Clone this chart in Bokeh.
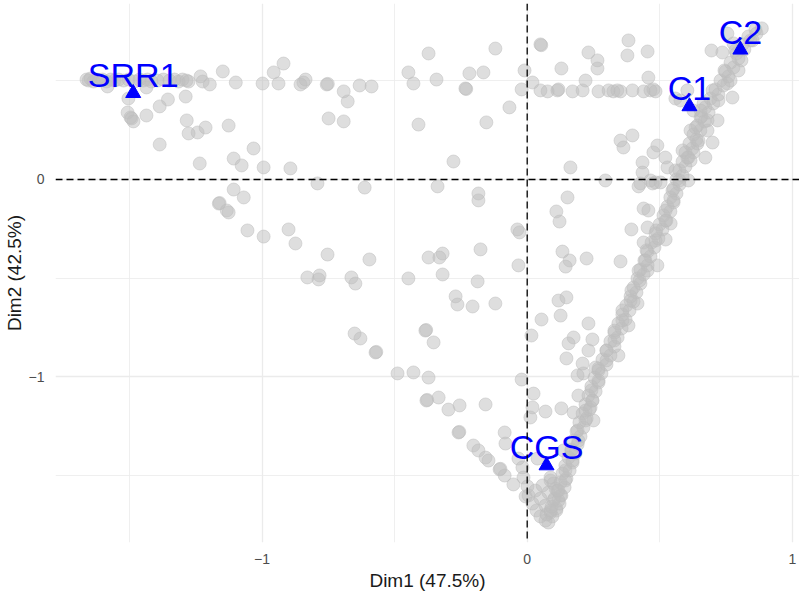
from bokeh.plotting import figure
from bokeh.models import Span, FixedTicker, Range1d
from bokeh.core.properties import value
from bokeh.embed import file_html
from bokeh.resources import INLINE

# ---------------- data ----------------
# column points (blue triangles)
col_names = ["SRR1", "C1", "C2", "CGS"]
col_x = [-1.486, 0.612, 0.804, 0.073]
col_y = [0.437, 0.370, 0.657, -1.448]

# row points: horizontal band top-left
band_left_x = [-1.662, -1.654, -1.647, -1.636, -1.624, -1.613, -1.602, -1.586, -1.571, -1.556,
               -1.541, -1.522, -1.503, -1.481, -1.462, -1.447, -1.432, -1.417, -1.394, -1.372,
               -1.349, -1.330, -1.315, -1.300, -1.285, -1.277]
band_left_y = [0.506, 0.501, 0.511, 0.496, 0.506, 0.501, 0.506, 0.496, 0.506, 0.501,
               0.506, 0.501, 0.506, 0.496, 0.506, 0.501, 0.506, 0.496, 0.501, 0.506,
               0.501, 0.506, 0.496, 0.506, 0.501, 0.496]

# row points: upper scatter (y > 0)
upper_x = [-1.232, -1.224, -1.197, -1.148, -1.099, -0.998, -0.956, -0.919, -0.938, -0.855,
           -0.836, -0.844, -0.756, -0.752, -0.692, -0.677, -0.632, -0.587, -0.749, -0.692,
           -0.448, -0.372, -0.429, -0.342, -0.218, -0.165, -0.120, -0.233, -0.230, -0.067,
           -0.154, -0.410, -0.278, -0.010, 0.020, -0.021, 0.050, 0.053,
           -1.583, -1.436, -1.504, -1.355, -1.386, -1.288, -1.507, -1.496, -1.492, -1.485,
           -1.436, -1.284, -1.277, -1.243, -1.213, -1.126, -1.386, -1.032, -1.107, -1.077,
           -1.235, -0.994, -0.893]
upper_y = [0.522, 0.496, 0.481, 0.547, 0.491, 0.486, 0.542, 0.587, 0.486, 0.481,
           0.506, 0.491, 0.481, 0.484, 0.446, 0.395, 0.476, 0.471, 0.309, 0.294,
           0.542, 0.638, 0.486, 0.506, 0.537, 0.542, 0.663, 0.461, 0.458, 0.365,
           0.289, 0.278, 0.091, 0.552, 0.491, 0.456, 0.684, 0.680,
           0.471, 0.466, 0.410, 0.405, 0.370, 0.420, 0.339, 0.314, 0.309, 0.294,
           0.324, 0.299, 0.233, 0.238, 0.263, 0.273, 0.177, 0.157, 0.106, 0.071,
           0.081, 0.061, 0.056]

# row points: lower-left branch and middle scatter
middle_x = [-1.107, -1.069, -1.163, -1.160, -1.133, -1.126, -1.055, -0.994, -0.900, -0.874,
            -0.829, -0.791, -0.613, -0.338, -0.184, -0.184, -0.037, -0.029, -0.753, -0.595,
            -0.783, -0.787, -0.663, -0.648, -0.448, -0.372, -0.319, -0.331, -0.176, -0.033,
            -0.319, -0.187, -0.270, -0.263, -0.206, -0.120, 0.054, 0.016, -0.651, -0.629,
            -0.384, -0.381, -0.353, -0.572, -0.569, -0.489, -0.429, -0.372, -0.021]
middle_y = [-0.051, -0.091, -0.122, -0.119, -0.157, -0.167, -0.258, -0.289, -0.253, -0.324,
            -0.496, -0.020, -0.041, -0.035, -0.071, -0.106, -0.253, -0.268, -0.380, -0.405,
            -0.486, -0.506, -0.496, -0.527, -0.501, -0.395, -0.375, -0.395, -0.354, -0.435,
            -0.481, -0.516, -0.592, -0.633, -0.643, -0.628, -0.709, -0.790, -0.780, -0.805,
            -0.765, -0.762, -0.825, -0.876, -0.873, -0.982, -0.977, -1.003, -1.013]

# row points: lower scatter towards the bottom tip
lower_x = [-0.380, -0.377, -0.334, -0.297, -0.255, -0.157, -0.259, -0.256, -0.203, -0.184,
           -0.157, -0.146, -0.104, -0.101, -0.085, -0.052, -0.006, 0.024, 0.020, 0.069,
           0.129, 0.012, -0.085, -0.082, -0.033, 0.039, -0.018, -0.014, 0.001, 0.137,
           0.088, 0.099,
           0.005, 0.020, 0.035, 0.050, 0.069, 0.031, 0.050, 0.069, 0.088, 0.058,
           0.080, 0.099, 0.110, 0.088, 0.107, 0.126]
lower_y = [-1.119, -1.116, -1.104, -1.165, -1.144, -1.139, -1.281, -1.278, -1.347, -1.372,
           -1.408, -1.423, -1.468, -1.465, -1.499, -1.544, -1.605, -1.084, -1.154, -1.175,
           -1.159, -1.205, -1.281, -1.337, -1.413, -1.413, -1.458, -1.509, -1.554, -1.372,
           -1.509, -1.539,
           -1.600, -1.641, -1.676, -1.706, -1.727, -1.575, -1.615, -1.651, -1.686, -1.549,
           -1.585, -1.625, -1.666, -1.524, -1.565, -1.600]

# row points: horizontal band top-right
band_right_x = [0.050, 0.077, 0.114, 0.118, 0.171, 0.209, 0.269, 0.307, 0.325, 0.340,
                0.352, 0.397, 0.439, 0.465, 0.476, 0.484]
band_right_y = [0.451, 0.446, 0.451, 0.456, 0.446, 0.451, 0.446, 0.451, 0.446, 0.451,
                0.446, 0.451, 0.446, 0.451, 0.456, 0.446]

# row points: scatter around the right branch
near_x = [0.220, 0.129, 0.231, 0.265, 0.265, 0.382, 0.378, 0.454, 0.457, 0.559,
          0.578, 0.604, 0.695, 0.736, 0.755, 0.778, 0.797, 0.755, 0.774, 0.665,
          0.627, 0.654, 0.718, 0.635, 0.680, 0.699, 0.642, 0.627, 0.672, 0.604,
          0.352, 0.397, 0.363, 0.491, 0.476, 0.521, 0.529, 0.435, 0.435, 0.163,
          0.295, 0.427, 0.484, 0.465, 0.152, 0.608,
          0.110, 0.122, 0.133, 0.160, 0.145, 0.224, 0.352, 0.393, 0.439, 0.457,
          0.454, 0.420, 0.473, 0.503, 0.522, 0.541, 0.491, 0.439, 0.454, 0.416,
          0.382, 0.344, 0.118, 0.148, 0.126, 0.231, 0.175, 0.156, 0.246, 0.231,
          0.148, 0.209, 0.258, 0.190, 0.212,
          0.193, 0.239, 0.250, 0.175]
near_y = [0.501, 0.562, 0.643, 0.603, 0.562, 0.704, 0.628, 0.648, 0.516, 0.410,
          0.400, 0.451, 0.653, 0.643, 0.739, 0.689, 0.552, 0.486, 0.415, 0.385,
          0.349, 0.314, 0.299, 0.263, 0.248, 0.187, 0.182, 0.137, 0.111, 0.111,
          0.197, 0.223, 0.162, 0.172, 0.137, 0.111, 0.061, 0.086, 0.035, 0.061,
          -0.005, -0.020, -0.015, -0.005, -0.091, -0.005,
          -0.162, -0.213, -0.365, -0.410, -0.441, -0.400, -0.415, -0.253, -0.147, -0.157,
          -0.243, -0.035, -0.020, -0.015, -0.304, -0.223, -0.435, -0.319, -0.461, -0.628,
          -0.739, -0.891, -0.613, -0.597, -0.689, -0.729, -0.800, -0.830, -0.810, -0.866,
          -0.906, -0.932, -0.952, -0.992, -0.982,
          -1.094, -1.154, -1.220, -1.180]

# row points: dense right branch of the "V"
arm_x = [0.080, 0.095, 0.073, 0.110, 0.092, 0.122, 0.103, 0.129, 0.114, 0.141,
         0.126, 0.148, 0.133, 0.160, 0.144, 0.171, 0.156, 0.182, 0.167, 0.190,
         0.175, 0.201, 0.186, 0.212, 0.197, 0.224, 0.209, 0.235, 0.220, 0.246,
         0.231, 0.258, 0.242, 0.269, 0.254, 0.280, 0.269, 0.299, 0.284, 0.314,
         0.299, 0.329, 0.314, 0.341, 0.329, 0.356, 0.344, 0.371, 0.359, 0.386,
         0.374, 0.401, 0.390, 0.412, 0.401, 0.427, 0.416, 0.439, 0.427, 0.454,
         0.442, 0.465, 0.454, 0.480, 0.469, 0.495, 0.484, 0.510, 0.499, 0.525,
         0.514, 0.540, 0.529, 0.552, 0.540, 0.563, 0.552, 0.574, 0.563, 0.586,
         0.574, 0.597, 0.586, 0.608, 0.597, 0.623, 0.612, 0.638, 0.627, 0.653,
         0.642, 0.669, 0.657, 0.684, 0.672, 0.702, 0.691, 0.721, 0.710, 0.740,
         0.729, 0.759, 0.748, 0.778, 0.767, 0.797, 0.789, 0.819, 0.812, 0.842,
         0.834, 0.865, 0.861, 0.885]
arm_y = [-1.737, -1.706, -1.696, -1.676, -1.656, -1.641, -1.615, -1.600, -1.575, -1.559,
         -1.534, -1.514, -1.489, -1.473, -1.448, -1.433, -1.408, -1.387, -1.367, -1.342,
         -1.322, -1.301, -1.276, -1.256, -1.230, -1.210, -1.185, -1.165, -1.139, -1.119,
         -1.094, -1.073, -1.048, -1.028, -1.003, -0.982, -0.957, -0.937, -0.911, -0.891,
         -0.866, -0.846, -0.820, -0.800, -0.775, -0.754, -0.729, -0.709, -0.684, -0.663,
         -0.638, -0.618, -0.592, -0.572, -0.547, -0.527, -0.501, -0.481, -0.456, -0.435,
         -0.410, -0.390, -0.365, -0.344, -0.319, -0.299, -0.273, -0.253, -0.228, -0.208,
         -0.182, -0.162, -0.137, -0.116, -0.091, -0.071, -0.046, -0.025, 0.000, 0.020,
         0.046, 0.066, 0.091, 0.111, 0.137, 0.157, 0.182, 0.203, 0.228, 0.248,
         0.273, 0.294, 0.319, 0.339, 0.365, 0.385, 0.410, 0.430, 0.456, 0.476,
         0.501, 0.522, 0.547, 0.567, 0.592, 0.613, 0.638, 0.658, 0.684, 0.704,
         0.724, 0.739, 0.759, 0.765]

# more row points hidden inside the dense right branch
arm2_x = [0.088, 0.118, 0.118, 0.144, 0.144, 0.171, 0.167, 0.193, 0.190, 0.220,
          0.220, 0.246, 0.242, 0.269, 0.269, 0.299, 0.299, 0.329, 0.329, 0.359,
          0.359, 0.390, 0.393, 0.424, 0.420, 0.446, 0.450, 0.484, 0.487, 0.522,
          0.522, 0.552, 0.548, 0.574, 0.559, 0.616, 0.586, 0.646, 0.616, 0.680,
          0.654, 0.721, 0.699, 0.767, 0.744, 0.808, 0.785, 0.850]
arm2_y = [-1.676, -1.625, -1.575, -1.524, -1.473, -1.423, -1.372, -1.322, -1.271, -1.220,
          -1.170, -1.119, -1.068, -1.018, -0.967, -0.916, -0.866, -0.815, -0.765, -0.714,
          -0.663, -0.613, -0.562, -0.511, -0.461, -0.410, -0.359, -0.309, -0.258, -0.208,
          -0.157, -0.106, -0.056, -0.005, 0.046, 0.096, 0.147, 0.197, 0.248, 0.299,
          0.349, 0.400, 0.451, 0.501, 0.552, 0.603, 0.653, 0.704]

x_ticks = [-1, 0, 1]
x_minor = [-1.5, -0.5, 0.5]
y_ticks = [-1, 0]
y_minor = [-1.5, -0.5, 0.5]

row_x = band_left_x + upper_x + middle_x + lower_x + band_right_x + near_x + arm_x + arm2_x
row_y = band_left_y + upper_y + middle_y + lower_y + band_right_y + near_y + arm_y + arm2_y

# ---------------- figure ----------------
FONT = "Liberation Sans"
p = figure(frame_width=744, frame_height=539,
           x_range=Range1d(-1.779, 1.027), y_range=Range1d(-1.838, 0.891),
           output_backend="svg", toolbar_location=None,
           min_border_left=40, min_border_right=0, min_border_top=3, min_border_bottom=0)
p.outline_line_color = None
p.background_fill_color = "white"

for ax, ticks, minor in ((p.xaxis[0], x_ticks, x_minor), (p.yaxis[0], y_ticks, y_minor)):
    ax.ticker = FixedTicker(ticks=ticks, minor_ticks=minor)
    ax.axis_line_color = None
    ax.major_tick_line_color = None
    ax.minor_tick_line_color = None
    ax.major_label_text_font = FONT
    ax.major_label_text_font_size = "14px"
    ax.major_label_text_color = "#4D4D4D"
    ax.axis_label_text_font = FONT
    ax.axis_label_text_font_size = "19px"
    ax.axis_label_text_font_style = "normal"
    ax.axis_label_text_color = "#1A1A1A"

p.xaxis.axis_label = "Dim1 (47.5%)"
p.yaxis.axis_label = "Dim2 (42.5%)"
p.xaxis.major_label_standoff = 5
p.xaxis.axis_label_standoff = 3
p.yaxis.major_label_standoff = 5
p.yaxis.axis_label_standoff = 1

for g in (p.xgrid[0], p.ygrid[0]):
    g.grid_line_color = "#EBEBEB"
    g.grid_line_width = 1.3
    g.minor_grid_line_color = "#EBEBEB"
    g.minor_grid_line_width = 0.8
p.xgrid.ticker = FixedTicker(ticks=x_ticks, minor_ticks=x_minor)
p.ygrid.ticker = FixedTicker(ticks=y_ticks, minor_ticks=y_minor)

p.scatter(row_x, row_y, marker="circle", size=13,
          fill_color="#BEBEBE", fill_alpha=0.5,
          line_color="#BEBEBE", line_alpha=0.5, line_width=1)

p.add_layout(Span(location=0, dimension="width", line_color="black",
                  line_dash="7 4", line_width=1.3))
p.add_layout(Span(location=0, dimension="height", line_color="black",
                  line_dash="7 4", line_width=1.3))

p.scatter(col_x, col_y, marker="triangle", size=15, fill_color="blue", line_color="blue")
p.text(col_x, col_y, text=col_names, text_font=value(FONT), text_font_size="34px",
       text_color="blue", text_align="center", text_baseline="alphabetic", y_offset=-18)

open("out.html", "w").write(file_html(p, INLINE))
